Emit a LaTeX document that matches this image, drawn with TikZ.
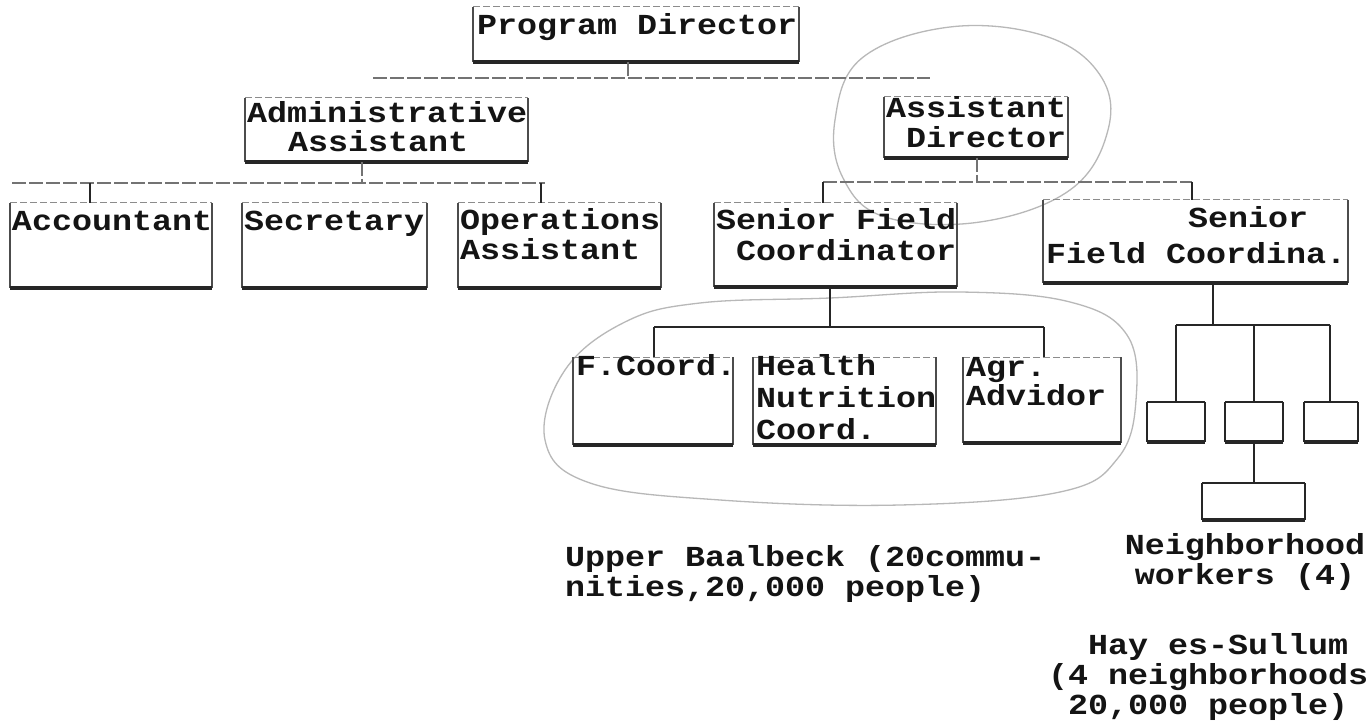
\documentclass[tikz,border=0pt]{standalone}
\usepackage{fontspec}
\newfontfamily\tw{Liberation Mono}[FakeStretch=1.15]
\begin{document}
\begin{tikzpicture}[x=1pt,y=-1pt,
  txt/.style={font={\tw\bfseries\fontsize{29}{30}\selectfont}, inner sep=0pt, outer sep=0pt,
    text height=18pt, text depth=0pt, anchor=west, text=black!92},
  topl/.style={draw=black!45, line width=1pt, dash pattern=on 7pt off 3pt},
  sidel/.style={draw=black!70, line width=1.2pt},
  botl/.style={draw=black!85, line width=3.6pt},
  sidet/.style={draw=black!85, line width=2.4pt},
  conn/.style={draw=black!55, line width=1.3pt, dash pattern=on 14pt off 3pt},
  conn2/.style={draw=black!85, line width=2.2pt},
  loopl/.style={draw=black!28, line width=1.3pt},
  orgbox/.style={inner sep=0pt, outer sep=0pt, anchor=north west,
    append after command={
      (\tikzlastnode.north west) edge[topl] (\tikzlastnode.north east)
      (\tikzlastnode.north west) edge[sidel] (\tikzlastnode.south west)
      (\tikzlastnode.north east) edge[sidel] (\tikzlastnode.south east)
      (\tikzlastnode.south west) edge[botl] (\tikzlastnode.south east)}},
  smallbox/.style={inner sep=0pt, outer sep=0pt, anchor=north west,
    append after command={
      (\tikzlastnode.north west) edge[sidet] (\tikzlastnode.north east)
      (\tikzlastnode.north west) edge[sidet] (\tikzlastnode.south west)
      (\tikzlastnode.north east) edge[sidet] (\tikzlastnode.south east)
      (\tikzlastnode.south west) edge[botl] (\tikzlastnode.south east)}}
]
\useasboundingbox (0,0) rectangle (1371,727);
\fill[white] (0,0) rectangle (1371,727);

% hand-drawn loops
\draw[loopl] plot[smooth cycle, tension=0.65] coordinates {(835,120) (862,58) (950,27) (1045,36) (1100,75) (1108,130) (1070,190) (980,222) (885,217) (843,178)};
\draw[loopl] plot[smooth cycle, tension=0.65] coordinates {(700,303) (830,298) (960,292) (1070,302) (1127,335) (1136,400) (1118,458) (1060,492) (900,505) (720,500) (590,483) (545,440) (565,370) (625,322)};

% boxes
\node[orgbox, minimum width=326pt, minimum height=55pt] (pd)  at (473,7) {};
\node[orgbox, minimum width=283pt, minimum height=64pt] (adm) at (245,98) {};
\node[orgbox, minimum width=184pt, minimum height=61pt] (ad)  at (884,97) {};
\node[orgbox, minimum width=202pt, minimum height=85pt] (acc) at (10,203) {};
\node[orgbox, minimum width=185pt, minimum height=85pt] (sec) at (242,203) {};
\node[orgbox, minimum width=203pt, minimum height=85pt] (ops) at (458,203) {};
\node[orgbox, minimum width=243pt, minimum height=84pt] (sfc) at (714,203) {};
\node[orgbox, minimum width=305pt, minimum height=83pt] (sfcb) at (1043,200) {};
\node[orgbox, minimum width=160pt, minimum height=88pt] (fco) at (573,357) {};
\node[orgbox, minimum width=183pt, minimum height=88pt] (hnc) at (753,357) {};
\node[orgbox, minimum width=158pt, minimum height=86pt] (agr) at (963,357) {};
\node[smallbox, minimum width=58pt, minimum height=40pt] (s1) at (1147,402) {};
\node[smallbox, minimum width=58pt, minimum height=40pt] (s2) at (1225,402) {};
\node[smallbox, minimum width=54pt, minimum height=40pt] (s3) at (1304,402) {};
\node[smallbox, minimum width=103pt, minimum height=37pt] (nw) at (1202,483) {};

% box texts
\node[txt] (pd-t)  at (477,26) {Program Director};
\node[txt] (adm-t1) at (247,114) {Administrative};
\node[txt] (adm-t2) at (288,143) {Assistant};
\node[txt] (ad-t1) at (886,109) {Assistant};
\node[txt] (ad-t2) at (906,139) {Director};
\node[txt] (acc-t) at (12,222) {Accountant};
\node[txt] (sec-t) at (244,222) {Secretary};
\node[txt] (ops-t1) at (460,221) {Operations};
\node[txt] (ops-t2) at (460,251) {Assistant};
\node[txt] (sfc-t1) at (716,221) {Senior Field};
\node[txt] (sfc-t2) at (736,252) {Coordinator};
\node[txt] (sfcb-t1) at (1188,219) {Senior};
\node[txt] (sfcb-t2) at (1046,255) {Field Coordina.};
\node[txt] (fco-t) at (576,366) {F.Coord.};
\node[txt] (hnc-t1) at (756,366) {Health};
\node[txt] (hnc-t2) at (756,398) {Nutrition};
\node[txt] (hnc-t3) at (756,430) {Coord.};
\node[txt] (agr-t1) at (966,367) {Agr.};
\node[txt] (agr-t2) at (966,396) {Advidor};

% captions
\node[txt] (ub1) at (565,557) {Upper Baalbeck (20commu-};
\node[txt] (ub2) at (565,587) {nities,20,000 people)};
\node[txt, anchor=center] (nb1) at (1245,545) {Neighborhood};
\node[txt, anchor=center] (nb2) at (1245,575) {workers (4)};
\node[txt] (hs1) at (1088,645) {Hay es-Sullum};
\node[txt] (hs2) at (1048,675) {(4 neighborhoods};
\node[txt] (hs3) at (1068,705) {20,000 people)};

% connectors: Program Director level
\coordinate (pdJ) at (628,78);
\coordinate (pdL) at (373,78);
\coordinate (pdR) at (930,78);
\draw[conn] (pd.south -| pdJ) -- (pdJ);
\draw[conn] (pdL) -- (pdR);

% Administrative Assistant level
\coordinate (admJ) at (362,183);
\coordinate (admL) at (12,183);
\coordinate (admR) at (545,183);
\coordinate (accJ) at (90,183);
\coordinate (opsJ) at (541,183);
\draw[conn] (adm.south -| admJ) -- (admJ);
\draw[conn] (admL) -- (admR);
\draw[conn2] (accJ) -- (acc.north -| accJ);
\draw[conn2] (opsJ) -- (ops.north -| opsJ);

% Assistant Director level
\coordinate (adJ) at (977,182);
\coordinate (sfcJ) at (823,182);
\coordinate (sfcbJ) at (1192,182);
\draw[conn] (ad.south -| adJ) -- (adJ);
\draw[conn] (sfcJ) -- (sfcbJ);
\draw[conn2] (sfcJ) -- (sfc.north -| sfcJ);
\draw[conn2] (sfcbJ) -- (sfcb.north -| sfcbJ);

% Senior Field Coordinator level
\coordinate (sfcB) at (830,327);
\coordinate (fcoJ) at (654,327);
\coordinate (agrJ) at (1044,327);
\draw[conn2] (sfc.south -| sfcB) -- (sfcB);
\draw[conn2] (fcoJ) -- (agrJ);
\draw[conn2] (fcoJ) -- (fco.north -| fcoJ);
\draw[conn2] (agrJ) -- (agr.north -| agrJ);

% second Senior Field Coordinator level
\coordinate (sfcbB) at (1213,325);
\coordinate (s1J) at (1176,325);
\coordinate (s2J) at (1254,325);
\coordinate (s3J) at (1330,325);
\draw[conn2] (sfcb.south -| sfcbB) -- (sfcbB);
\draw[conn2] (s1J) -- (s3J);
\draw[conn2] (s1J) -- (s1.north -| s1J);
\draw[conn2] (s2J) -- (s2.north -| s2J);
\draw[conn2] (s3J) -- (s3.north -| s3J);
\draw[conn2] (s2.south) -- (s2.south |- nw.north);
\end{tikzpicture}
\end{document}
